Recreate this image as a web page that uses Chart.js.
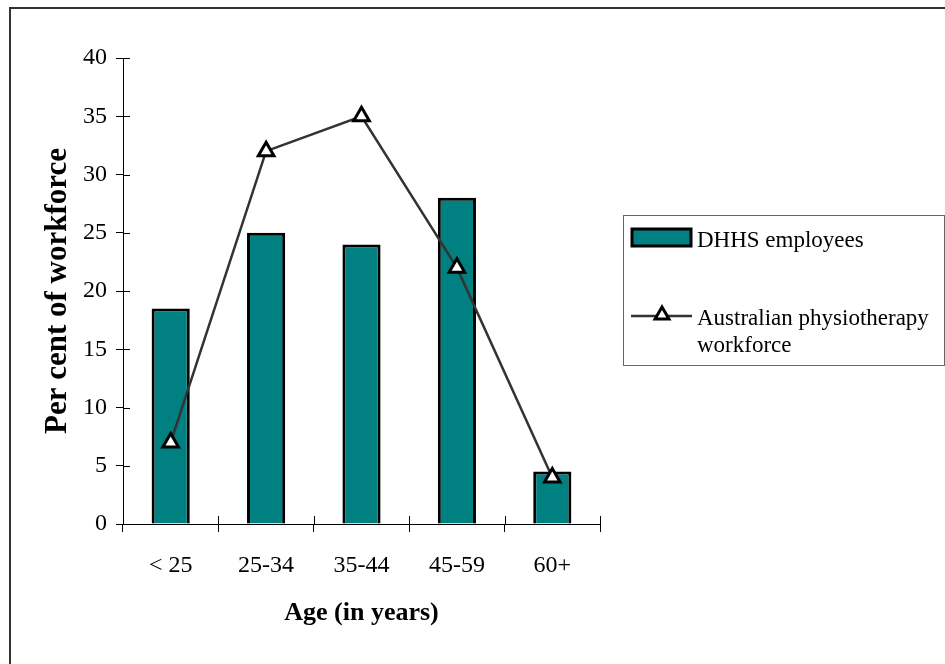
<!DOCTYPE html>
<html>
<head>
<meta charset="utf-8">
<script src="https://cdn.jsdelivr.net/npm/chart.js@4/dist/chart.umd.min.js"></script>
<style>
  html, body { margin: 0; padding: 0; background: #fff; }
  canvas { display: block; }
</style>
</head>
<body>
<canvas id="chart" width="945" height="664"></canvas>
<script>
// Age bands on the category axis
const ageGroups = ['< 25', '25-34', '35-44', '45-59', '60+'];
// Per cent of workforce in each age band
const dhhsEmployees = [18.5, 25, 24, 28, 4.5];
const australianPhysio = [7, 32, 35, 22, 4];
// Series names and how they wrap in the legend box
const seriesNames = ['DHHS employees', 'Australian physiotherapy workforce'];
const legendLines = [['DHHS employees'], ['Australian physiotherapy', 'workforce']];
// Value axis range
const yMin = 0, yMax = 40, yStep = 5;

const SERIF = '"Liberation Serif", "Times New Roman", serif';
const TEAL = '#008080';

Chart.defaults.font.family = SERIF;
Chart.defaults.color = '#000';

// Tick marks that cross the axis line (inner half; outer half comes from grid ticks)
const crossTicks = {
  id: 'crossTicks',
  afterDraw(chart) {
    const { ctx, chartArea, scales: { x, y } } = chart;
    ctx.save();
    ctx.strokeStyle = '#000';
    ctx.lineWidth = 1;
    ctx.beginPath();
    y.ticks.forEach((t, i) => {
      const py = Math.round(y.getPixelForTick(i)) + 0.5;
      ctx.moveTo(chartArea.left, py);
      ctx.lineTo(chartArea.left + 7, py);
    });
    for (let i = 0; i <= ageGroups.length; i++) {
      const px = Math.round(x.getPixelForValue(i - 0.5)) + 0.5;
      ctx.moveTo(px, chartArea.bottom);
      ctx.lineTo(px, chartArea.bottom - 8);
    }
    ctx.stroke();
    ctx.restore();
  }
};

// White page with the frame running off the right and bottom edges
const frame = {
  id: 'frame',
  beforeDraw(chart) {
    const { ctx, width, height } = chart;
    ctx.save();
    ctx.fillStyle = '#fff';
    ctx.fillRect(0, 0, width, height);
    ctx.strokeStyle = '#333';
    ctx.lineWidth = 2;
    ctx.strokeRect(10, 8, width + 20, height + 20);
    ctx.restore();
  }
};

// Boxed legend on the right, second entry wrapped onto two lines
const boxLegend = {
  id: 'boxLegend',
  afterDraw(chart) {
    const { ctx } = chart;
    const barDs = chart.data.datasets[1];
    const lineDs = chart.data.datasets[0];
    ctx.save();
    ctx.strokeStyle = '#666';
    ctx.lineWidth = 1;
    ctx.strokeRect(623.5, 215.5, 321, 150);

    // bar swatch
    ctx.fillStyle = barDs.backgroundColor;
    ctx.strokeStyle = barDs.borderColor;
    ctx.lineWidth = 3;
    ctx.fillRect(632, 229, 59, 17);
    ctx.strokeRect(632, 229, 59, 17);

    // line swatch with marker
    ctx.strokeStyle = lineDs.borderColor;
    ctx.lineWidth = lineDs.borderWidth;
    ctx.beginPath();
    ctx.moveTo(631, 316);
    ctx.lineTo(692, 316);
    ctx.stroke();
    ctx.fillStyle = lineDs.pointBackgroundColor;
    ctx.strokeStyle = lineDs.pointBorderColor;
    ctx.lineWidth = lineDs.pointBorderWidth;
    Chart.helpers.drawPoint(ctx, {
      pointStyle: 'triangle', radius: 8, rotation: 0, borderWidth: lineDs.pointBorderWidth
    }, 662, 315);

    ctx.fillStyle = '#000';
    ctx.font = '23px ' + SERIF;
    ctx.textBaseline = 'alphabetic';
    ctx.textAlign = 'left';
    ctx.fillText(legendLines[0][0], 697, 247);
    ctx.fillText(legendLines[1][0], 697, 325);
    ctx.fillText(legendLines[1][1], 697, 352);
    ctx.restore();
  }
};

new Chart(document.getElementById('chart'), {
  data: {
    labels: ageGroups,
    datasets: [
      {
        type: 'line',
        label: seriesNames[1],
        data: australianPhysio,
        borderColor: '#333',
        borderWidth: 2.5,
        tension: 0,
        pointStyle: 'triangle',
        pointRadius: 9,
        pointBackgroundColor: '#fff',
        pointBorderColor: '#000',
        pointBorderWidth: 3,
        order: 0
      },
      {
        type: 'bar',
        label: seriesNames[0],
        data: dhhsEmployees,
        backgroundColor: TEAL,
        borderColor: '#000',
        borderWidth: 3,
        barPercentage: 0.4,
        categoryPercentage: 1,
        order: 1
      }
    ]
  },
  options: {
    responsive: false,
    devicePixelRatio: 1,
    animation: false,
    layout: { padding: { left: 0, top: 58, right: 345, bottom: 0 } },
    plugins: {
      legend: { display: false },
      tooltip: { enabled: false }
    },
    scales: {
      x: {
        type: 'category',
        offset: true,
        grid: {
          offset: true,
          drawOnChartArea: false,
          drawTicks: true,
          tickLength: 8,
          color: '#000',
          lineWidth: 1
        },
        border: { display: true, color: '#000', width: 1 },
        ticks: {
          font: { size: 24 },
          color: '#000',
          padding: 19,
          maxRotation: 0,
          autoSkip: false
        },
        title: {
          display: true,
          text: 'Age (in years)',
          font: { size: 26, weight: 'bold' },
          color: '#000',
          padding: { top: 0, bottom: 35 }
        },
        afterFit(scale) { scale.height = 140; }
      },
      y: {
        min: yMin,
        max: yMax,
        grid: {
          drawOnChartArea: false,
          drawTicks: true,
          tickLength: 7,
          color: '#000',
          lineWidth: 1
        },
        border: { display: true, color: '#000', width: 1 },
        ticks: {
          stepSize: yStep,
          font: { size: 24 },
          color: '#000',
          padding: 9
        },
        title: {
          display: true,
          text: 'Per cent of workforce',
          font: { size: 31, weight: 'bold' },
          color: '#000',
          padding: { top: 39, bottom: 0 }
        },
        afterFit(scale) { scale.width = 123; }
      }
    }
  },
  plugins: [frame, crossTicks, boxLegend]
});
</script>
</body>
</html>
